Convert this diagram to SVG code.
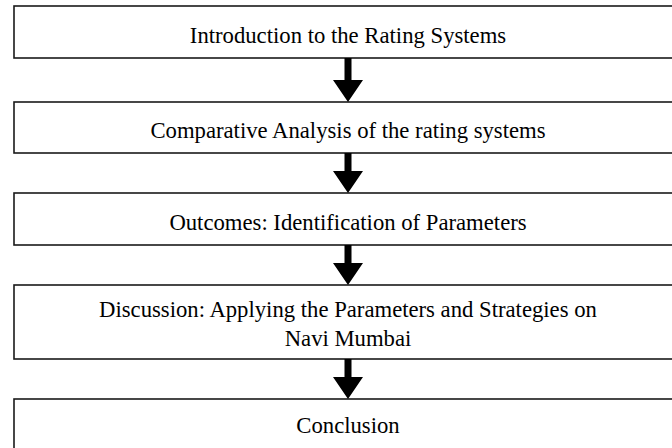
<svg xmlns="http://www.w3.org/2000/svg" width="672" height="448" viewBox="0 0 672 448">
  <style>
    .box { fill: #ffffff; stroke: #1a1a1a; stroke-width: 1.6; }
    .label { font-family: "Liberation Serif", "Times New Roman", serif; font-size: 22.7px; fill: #000000; text-anchor: middle; }
    .arrow { fill: #000000; stroke: none; }
  </style>
  <rect x="0" y="0" width="672" height="448" fill="#ffffff"/>

  <g id="intro">
    <rect class="box" x="14" y="6" width="700" height="52"/>
    <text class="label" x="348" y="42.5">Introduction to the Rating Systems</text>
  </g>

  <g id="comparative">
    <rect class="box" x="14" y="102" width="700" height="51"/>
    <text class="label" x="348" y="138">Comparative Analysis of the rating systems</text>
  </g>

  <g id="outcomes">
    <rect class="box" x="14" y="193" width="700" height="52"/>
    <text class="label" x="348" y="229.5">Outcomes: Identification of Parameters</text>
  </g>

  <g id="discussion">
    <rect class="box" x="14" y="285" width="700" height="74"/>
    <text class="label" x="348" y="317">Discussion: Applying the Parameters and Strategies on</text>
    <text class="label" x="348" y="346">Navi Mumbai</text>
  </g>

  <g id="conclusion">
    <rect class="box" x="14" y="399" width="700" height="60"/>
    <text class="label" x="348" y="433">Conclusion</text>
  </g>

  <g id="connectors">
    <path class="arrow" d="M344.5 58 H351.5 V80 H363 L348 102 L333 80 H344.5 Z"/>
    <path class="arrow" d="M344.5 153 H351.5 V171 H363 L348 193 L333 171 H344.5 Z"/>
    <path class="arrow" d="M344.5 245 H351.5 V263 H363 L348 285 L333 263 H344.5 Z"/>
    <path class="arrow" d="M344.5 359 H351.5 V377 H363 L348 399 L333 377 H344.5 Z"/>
  </g>
</svg>
